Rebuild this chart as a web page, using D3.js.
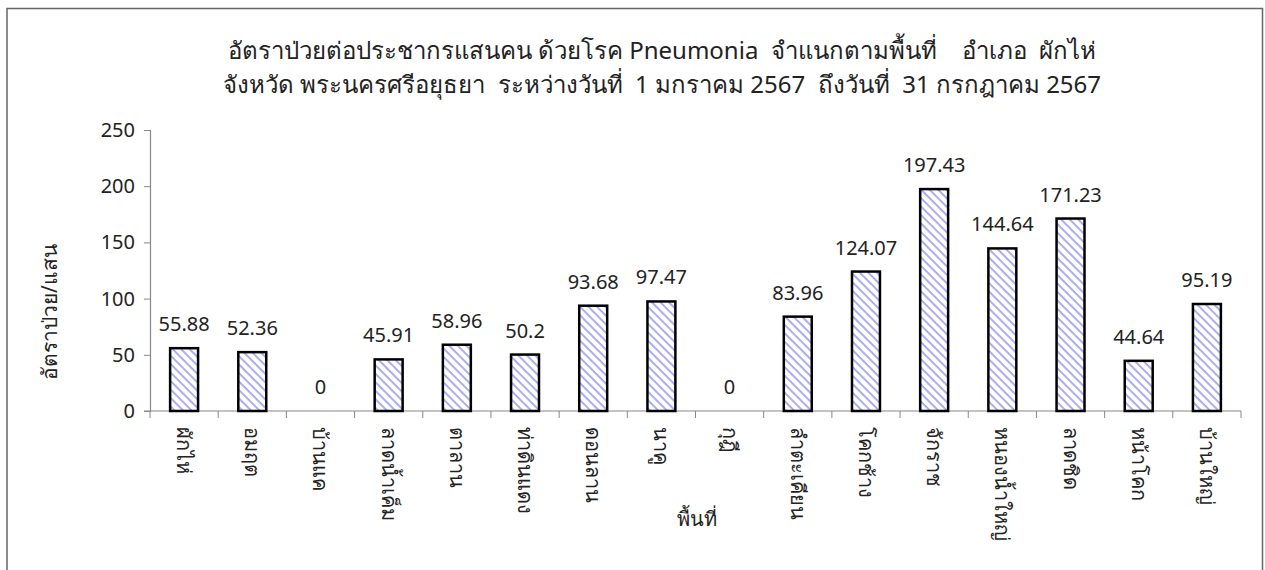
<!DOCTYPE html>
<html>
<head>
<meta charset="utf-8">
<script src="https://cdn.jsdelivr.net/npm/d3@7"></script>
<style>
  body { margin: 0; background: #fff; }
  svg text { font-family: "Noto Sans", "Tahoma", sans-serif; fill: #222; }
</style>
</head>
<body>
<svg id="chart"></svg>
<script>
// data
const areas = ['ผักไห่', 'อมฤต', 'บ้านแค', 'ลาดน้ำเค็ม', 'ตาลาน', 'ท่าดินแดง', 'ดอนลาน', 'นาคู',
    'กุฎี', 'ลำตะเคียน', 'โคกช้าง', 'จักราช', 'หนองน้ำใหญ่', 'ลาดชิด', 'หน้าโคก', 'บ้านใหญ่'];
const rates = [55.88, 52.36, 0, 45.91, 58.96, 50.2, 93.68, 97.47, 0, 83.96, 124.07, 197.43, 144.64, 171.23, 44.64, 95.19];
const yTicks = [0, 50, 100, 150, 200, 250];
const titleLines = [
    'อัตราป่วยต่อประชากรแสนคน ด้วยโรค Pneumonia  จำแนกตามพื้นที่    อำเภอ  ผักไห่',
    'จังหวัด พระนครศรีอยุธยา  ระหว่างวันที่  1 มกราคม 2567  ถึงวันที่  31 กรกฎาคม 2567'
];

const W = 1265, H = 570;
const margin = { top: 130, right: 24, bottom: 159, left: 150 };
const width = W - margin.left - margin.right;
const height = H - margin.top - margin.bottom;

const svg = d3.select('#chart').attr('width', W).attr('height', H);

// hatch pattern for bars ("\" direction)
const defs = svg.append('defs');
const pat = defs.append('pattern')
    .attr('id', 'hatch')
    .attr('patternUnits', 'userSpaceOnUse')
    .attr('width', 6).attr('height', 6)
    .attr('patternTransform', 'rotate(45)');
pat.append('rect').attr('width', 6).attr('height', 6).attr('fill', '#fff');
pat.append('rect').attr('x', 0).attr('y', 0).attr('width', 6).attr('height', 1.8).attr('fill', '#a4a4f2');

// outer frame
svg.append('path')
    .attr('d', `M7,${H} L7,8.5 L1262.5,8.5 L1262.5,${H}`)
    .attr('fill', 'none')
    .attr('stroke', '#666')
    .attr('stroke-width', 1.5);

const chart = svg.append('g').attr('transform', `translate(${margin.left},${margin.top})`);

const x = d3.scaleBand().domain(areas).range([0, width]).paddingInner(0.59).paddingOuter(0.295);
const xTick = d3.scaleBand().domain(areas).range([0, width]);
const y = d3.scaleLinear().domain([0, 250]).range([height, 0]);

// y axis
const yAxis = d3.axisLeft(y).tickValues(yTicks).tickSize(6).tickPadding(9);
const yG = chart.append('g').call(yAxis);
yG.select('.domain').attr('stroke', '#888').attr('stroke-width', 1.2);
yG.selectAll('.tick line').attr('stroke', '#888');
yG.selectAll('.tick text').style('font-size', '20px').attr('fill', '#222');

// x axis with ticks between categories
const xG = chart.append('g').attr('transform', `translate(0,${height})`);
xG.append('line').attr('x1', -6).attr('x2', width).attr('stroke', '#888').attr('stroke-width', 1.2);
xG.selectAll('.sep')
    .data(areas.concat(['end']))
    .join('line')
    .attr('class', 'sep')
    .attr('x1', (d, i) => i * xTick.step())
    .attr('x2', (d, i) => i * xTick.step())
    .attr('y1', 0).attr('y2', 7)
    .attr('stroke', '#888');
xG.selectAll('.cat')
    .data(areas)
    .join('text')
    .attr('class', 'cat')
    .attr('transform', d => `translate(${xTick(d) + xTick.bandwidth() / 2},16) rotate(90)`)
    .attr('dy', '0.35em')
    .style('font-size', '20px')
    .text(d => d);

// bars
chart.selectAll('.bar')
    .data(rates.map((v, i) => ({ area: areas[i], v })).filter(d => d.v > 0))
    .join('rect')
    .attr('class', 'bar')
    .attr('x', d => x(d.area))
    .attr('y', d => y(d.v))
    .attr('width', x.bandwidth())
    .attr('height', d => y(0) - y(d.v))
    .attr('fill', 'url(#hatch)')
    .attr('stroke', '#000')
    .attr('stroke-width', 2.5);

// value labels
chart.selectAll('.val')
    .data(rates.map((v, i) => ({ area: areas[i], v })))
    .join('text')
    .attr('class', 'val')
    .attr('x', d => x(d.area) + x.bandwidth() / 2)
    .attr('y', d => y(d.v) - 17)
    .attr('text-anchor', 'middle')
    .style('font-size', '20px')
    .text(d => d.v);

// titles
svg.selectAll('.title')
    .data(titleLines)
    .join('text')
    .attr('class', 'title')
    .attr('x', 662)
    .attr('y', (d, i) => 59 + i * 34)
    .attr('text-anchor', 'middle')
    .style('font-size', '24px')
    .style('white-space', 'pre')
    .attr('xml:space', 'preserve')
    .text(d => d);

// axis titles
svg.append('text')
    .attr('transform', 'translate(57,312) rotate(-90)')
    .attr('text-anchor', 'middle')
    .style('font-size', '21px')
    .text('อัตราป่วย/แสน');

svg.append('text')
    .attr('x', 697)
    .attr('y', 526)
    .attr('text-anchor', 'middle')
    .style('font-size', '20px')
    .text('พื้นที่');
</script>
</body>
</html>
